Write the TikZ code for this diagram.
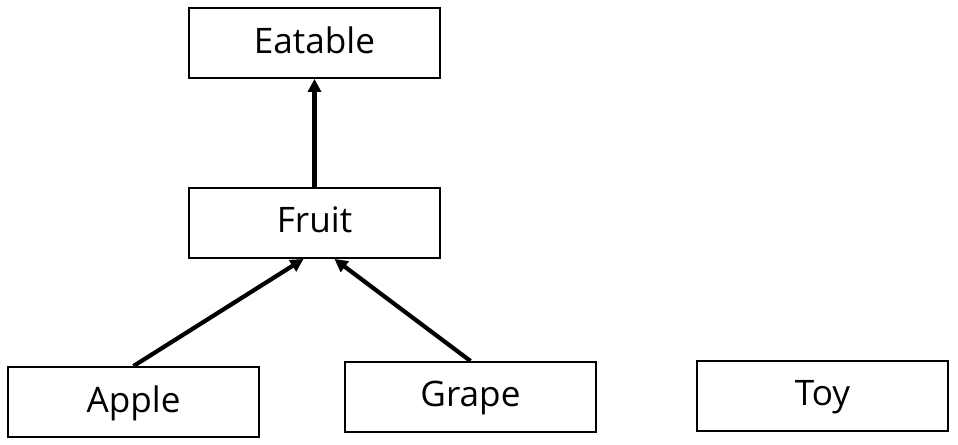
\documentclass[tikz,border=0pt]{standalone}
\usepackage{fontspec}
\setmainfont{Open Sans}
\usetikzlibrary{arrows.meta}
\begin{document}
\begin{tikzpicture}[x=0.02cm,y=-0.02cm]
\useasboundingbox (0,0) rectangle (958,445);
\tikzset{box/.style={draw, line width=1.1pt, minimum width=5.02cm, minimum height=1.40cm, inner sep=0pt, text depth=0.12cm, font=\fontsize{20}{24}\selectfont}}
\tikzset{isa/.style={draw, line width=2.4pt, -{Triangle[length=0.26cm,width=0.26cm]}}}
\node[box] (eatable) at (314.5,43) {Eatable};
\node[box] (fruit) at (314.5,223) {Fruit};
\node[box] (apple) at (133.5,402) {Apple};
\node[box] (grape) at (470.5,397) {Grape};
\node[box] (toy) at (822.5,396) {Toy};
\path[isa] (fruit) -- (eatable);
\path[isa] (apple.north) -- (fruit.-107);
\path[isa] (grape.north) -- (fruit.-61);
\end{tikzpicture}
\end{document}
